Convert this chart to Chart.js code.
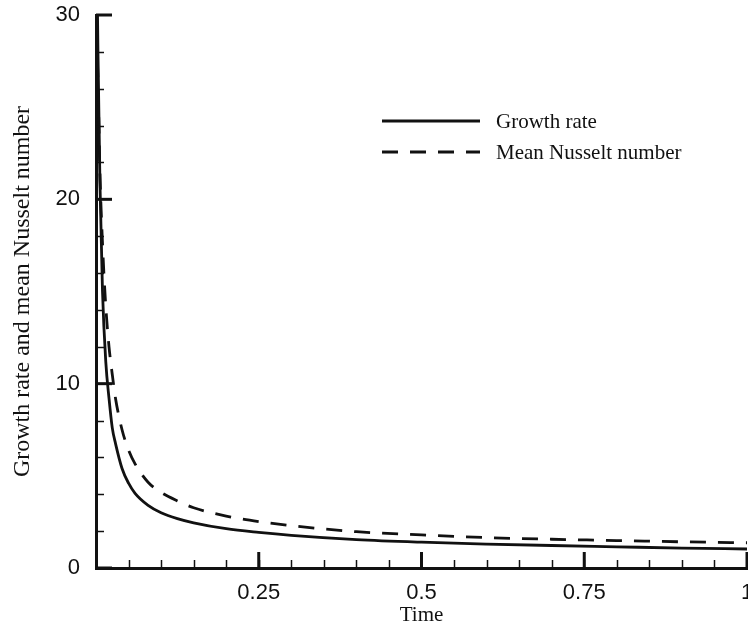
<!DOCTYPE html>
<html>
<head>
<meta charset="utf-8">
<script src="https://cdn.jsdelivr.net/npm/chart.js@4"></script>
<style>
    html, body { margin: 0; padding: 0; background: #fff; overflow: hidden; }
    #wrap { width: 760px; height: 630px; }
</style>
</head>
<body>
<div id="wrap"><canvas id="growthChart"></canvas></div>
<script>
// Data
const time = [0.001, 0.003, 0.006, 0.01, 0.015, 0.02, 0.025, 0.03, 0.04, 0.05, 0.06, 0.08, 0.1, 0.125, 0.15, 0.2, 0.25, 0.3, 0.4, 0.5, 0.6, 0.7, 0.8, 0.9, 1.0];
const growthRate = [34, 28, 21, 15, 11.2, 9.2, 7.6, 6.75, 5.4, 4.6, 4.05, 3.4, 3.0, 2.68, 2.45, 2.13, 1.93, 1.77, 1.54, 1.4, 1.3, 1.22, 1.15, 1.08, 1.03];
const nusseltNumber = [29, 26.5, 21.5, 17.6, 14.2, 12.0, 10.5, 9.2, 7.5, 6.4, 5.65, 4.65, 4.1, 3.64, 3.27, 2.82, 2.52, 2.3, 1.97, 1.8, 1.65, 1.56, 1.49, 1.42, 1.37];
const xTicks = [0.25, 0.5, 0.75, 1];
const yTicks = [0, 10, 20, 30];
const seriesLabels = ['Growth rate', 'Mean Nusselt number'];

const serif = "'Liberation Serif', 'Times New Roman', serif";
const sans = "'Liberation Sans', Arial, sans-serif";

// Inward tick marks (major + minor), like the original plot
const innerTicks = {
    id: 'innerTicks',
    afterDraw(chart) {
        const { ctx, chartArea, scales } = chart;
        const x = scales.x, y = scales.y;
        ctx.save();
        ctx.strokeStyle = '#111';
        // minor ticks
        ctx.lineWidth = 1.5;
        for (let v = 0.05; v < 1; v += 0.05) {
            const px = Math.round(x.getPixelForValue(v)) + 0.5;
            ctx.beginPath();
            ctx.moveTo(px, chartArea.bottom);
            ctx.lineTo(px, chartArea.bottom - 8);
            ctx.stroke();
        }
        for (let v = 2; v < 30; v += 2) {
            if (v % 10 === 0) continue;
            const py = Math.round(y.getPixelForValue(v)) + 0.5;
            ctx.beginPath();
            ctx.moveTo(chartArea.left, py);
            ctx.lineTo(chartArea.left + 8, py);
            ctx.stroke();
        }
        // major ticks
        ctx.lineWidth = 3;
        xTicks.forEach(v => {
            const px = x.getPixelForValue(v);
            ctx.beginPath();
            ctx.moveTo(px, chartArea.bottom);
            ctx.lineTo(px, chartArea.bottom - 16);
            ctx.stroke();
        });
        yTicks.forEach(v => {
            const py = y.getPixelForValue(v);
            ctx.beginPath();
            ctx.moveTo(chartArea.left, py);
            ctx.lineTo(chartArea.left + 16, py);
            ctx.stroke();
        });
        ctx.restore();
    }
};

// Legend drawn inside the plot, line samples use the dataset styles
const innerLegend = {
    id: 'innerLegend',
    afterDraw(chart) {
        const { ctx } = chart;
        const x0 = 382, x1 = 480, textX = 496;
        const rows = [121, 152];
        ctx.save();
        chart.data.datasets.forEach((ds, i) => {
            ctx.strokeStyle = ds.borderColor;
            ctx.lineWidth = ds.borderWidth;
            ctx.setLineDash(ds.borderDash || []);
            ctx.beginPath();
            ctx.moveTo(x0, rows[i]);
            ctx.lineTo(x1, rows[i]);
            ctx.stroke();
            ctx.setLineDash([]);
            ctx.fillStyle = '#111';
            ctx.font = '21px ' + serif;
            ctx.textBaseline = 'middle';
            ctx.fillText(ds.label, textX, rows[i] + 1);
        });
        ctx.restore();
    }
};

const ctx = document.getElementById('growthChart').getContext('2d');
new Chart(ctx, {
    type: 'line',
    data: {
        datasets: [
            {
                label: seriesLabels[0],
                data: time.map((t, i) => ({ x: t, y: growthRate[i] })),
                borderColor: '#111',
                borderWidth: 2.8,
                pointRadius: 0,
                cubicInterpolationMode: 'monotone'
            },
            {
                label: seriesLabels[1],
                data: time.map((t, i) => ({ x: t, y: nusseltNumber[i] })),
                borderColor: '#111',
                borderWidth: 2.8,
                borderDash: [16, 12],
                pointRadius: 0,
                cubicInterpolationMode: 'monotone'
            }
        ]
    },
    options: {
        responsive: true,
        maintainAspectRatio: false,
        animation: false,
        layout: { padding: { top: 15, right: 13, left: 0, bottom: 0 } },
        plugins: {
            legend: { display: false },
            tooltip: { enabled: false }
        },
        scales: {
            x: {
                type: 'linear',
                min: 0,
                max: 1,
                afterBuildTicks: scale => { scale.ticks = xTicks.map(v => ({ value: v })); },
                afterFit: scale => {
                    scale.height = 62;
                    scale.paddingLeft = 0;
                    scale.paddingRight = 0;
                },
                grid: { display: false },
                border: { display: true, color: '#111', width: 3 },
                ticks: {
                    color: '#111',
                    padding: 4,
                    font: { family: sans, size: 22 },
                    maxRotation: 0,
                    callback: v => String(v)
                },
                title: {
                    display: true,
                    text: 'Time',
                    color: '#111',
                    font: { family: serif, size: 21 },
                    padding: { top: 0, bottom: 2 }
                }
            },
            y: {
                type: 'linear',
                min: 0,
                max: 30,
                afterBuildTicks: scale => { scale.ticks = yTicks.map(v => ({ value: v })); },
                afterFit: scale => {
                    scale.width = 96;
                    scale.paddingTop = 0;
                    scale.paddingBottom = 0;
                },
                grid: { display: false },
                border: { display: true, color: '#111', width: 3 },
                ticks: {
                    color: '#111',
                    padding: 8,
                    font: { family: sans, size: 22 },
                    callback: v => String(v)
                },
                title: {
                    display: true,
                    text: 'Growth rate and mean Nusselt number',
                    color: '#111',
                    font: { family: serif, size: 24 },
                    padding: { top: 8, bottom: 0 }
                }
            }
        }
    },
    plugins: [innerTicks, innerLegend]
});
</script>
</body>
</html>
